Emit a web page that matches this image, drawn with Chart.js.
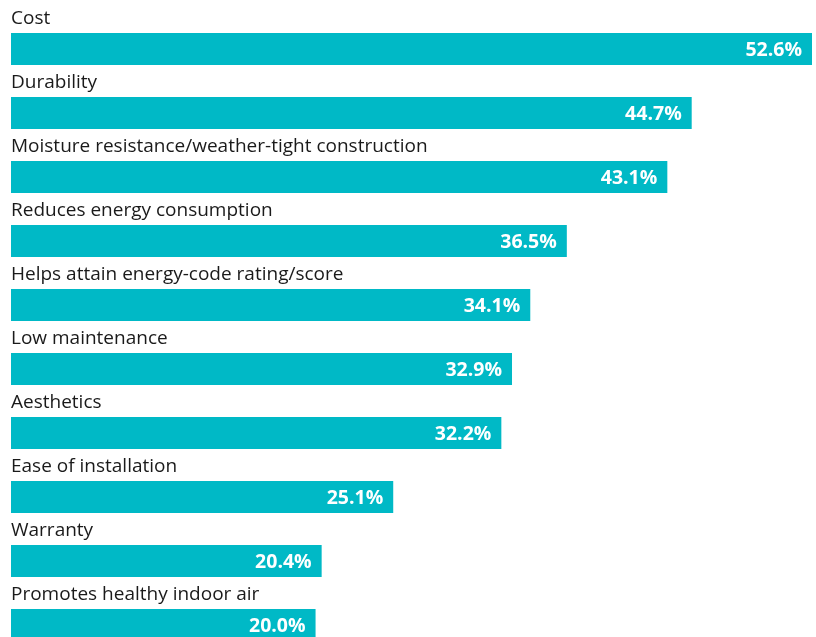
<!DOCTYPE html>
<html>
<head>
<meta charset="utf-8">
<script src="https://cdn.jsdelivr.net/npm/chart.js@4"></script>
<style>
  html, body { margin: 0; padding: 0; background: #fff; overflow: hidden; }
  #wrap { width: 816px; height: 680px; }
</style>
</head>
<body>
<div id="wrap"><canvas id="c" width="816" height="680"></canvas></div>
<script>
const categories = [
  "Cost",
  "Durability",
  "Moisture resistance/weather-tight construction",
  "Reduces energy consumption",
  "Helps attain energy-code rating/score",
  "Low maintenance",
  "Aesthetics",
  "Ease of installation",
  "Warranty",
  "Promotes healthy indoor air"
];
const shares = [52.6, 44.7, 43.1, 36.5, 34.1, 32.9, 32.2, 25.1, 20.4, 20.0];

const BAR_COLOR = "#00B9C6";
const FONT = "'Open Sans', Lato, sans-serif";

// Category names sit above each bar; percentages sit inside the bar end.
const barLabels = {
  id: "barLabels",
  afterDatasetsDraw(chart) {
    const { ctx } = chart;
    const meta = chart.getDatasetMeta(0);
    ctx.save();
    meta.data.forEach((bar, i) => {
      const top = bar.y - bar.height / 2;
      ctx.font = "19px " + FONT;
      ctx.fillStyle = "#1a1a1a";
      ctx.textAlign = "left";
      ctx.textBaseline = "alphabetic";
      ctx.fillText(categories[i], bar.base, top - 9);

      ctx.font = "bold 19.5px " + FONT;
      ctx.fillStyle = "#ffffff";
      ctx.textAlign = "right";
      ctx.textBaseline = "middle";
      ctx.fillText(shares[i].toFixed(1) + "%", bar.x - 10, bar.y + 1);
    });
    ctx.restore();
  }
};

new Chart(document.getElementById("c"), {
  type: "bar",
  data: {
    labels: categories,
    datasets: [{
      data: shares,
      backgroundColor: BAR_COLOR,
      borderWidth: 0,
      barPercentage: 1,
      categoryPercentage: 0.5
    }]
  },
  options: {
    indexAxis: "y",
    responsive: false,
    animation: false,
    layout: { padding: { left: 11, right: 4, top: 17, bottom: 23 } },
    plugins: { legend: { display: false }, tooltip: { enabled: false } },
    scales: {
      x: { display: false, min: 0, max: 52.6 },
      y: { display: false }
    }
  },
  plugins: [barLabels]
});
</script>
</body>
</html>
